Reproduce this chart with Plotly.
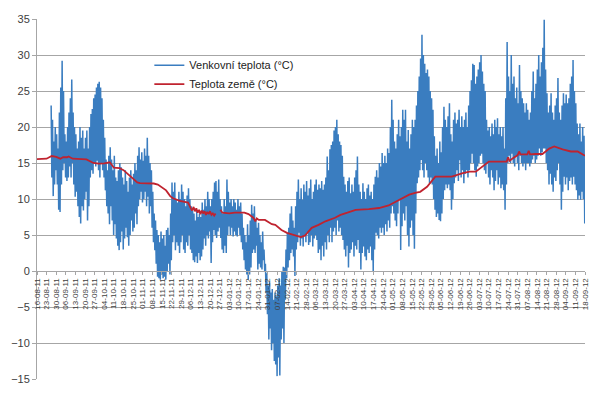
import pandas as pd
import plotly.graph_objects as go

start = pd.Timestamp("2011-08-16")
end = pd.Timestamp("2012-09-18")
first_day = 10  # first day with outdoor readings

# daily maxima of outdoor temperature (°C), days 10..398 after 16-08-2011
daily_max = [
    23, 21, 18, 20, 19, 17, 22, 25.5, 29.2, 25,
    19, 18, 20, 22, 24, 26.6, 22, 20, 19, 17,
    18, 20, 18.5, 19.5, 17, 18.5, 19.5, 17, 20, 21.8,
    22.5, 24, 24.5, 25.5, 26, 26.3, 25.5, 24, 21, 18.5,
    15.5, 14, 16, 17.2, 15.5, 14, 16, 13, 12.5, 14,
    15, 14.4, 13, 12, 14, 12.5, 11, 13, 14, 12,
    13.5, 15, 14, 16, 17.2, 15.5, 16.5, 15.3, 17, 16,
    18.5, 16, 15, 14, 11, 8, 7, 5.7, 5, 4,
    5.5, 4.5, 5, 3.5, 5.7, 6, 5, 8, 12.3, 11,
    12.3, 10, 9.5, 11, 10, 12, 11, 10, 9, 10.5,
    11.5, 10, 9, 8.4, 8, 7, 8.4, 7.5, 8, 7.5,
    9.5, 8.5, 10, 9, 11, 10, 9, 10, 11, 12.3,
    12.5, 11, 12.7, 10, 9, 8, 10, 9, 12.7, 11,
    9.5, 10, 9, 10, 9.5, 8.5, 10, 9, 9.5, 8,
    6, 5, 4, 6.5, 5, 7, 9.2, 8, 9, 7,
    6, 6.7, 5, 4, 5.5, 3, 1, -0.3, -2, -1.5,
    -3, -2.5, -4, -3, -3.5, -2, -1, -2, 0, 0.6,
    0.5, 3, 5.3, 6, 8, 9, 7, 6, 9, 11,
    12.7, 10, 11.5, 9.9, 12, 11, 12.5, 10.5, 11.5, 12.7,
    10, 11, 12, 12.7, 11.3, 12, 11.5, 12.5, 11.3, 12,
    13, 15.9, 14, 16.9, 17.5, 18, 19.5, 20, 21, 19,
    18, 17.5, 16, 13.1, 12, 11, 12.5, 13, 10.8, 12,
    11, 13, 14, 15.9, 12, 11, 10, 12.2, 11, 10,
    11.5, 12, 10.5, 11, 10, 12, 13.1, 14, 13, 15,
    14.5, 16.4, 15, 16, 15, 17, 16.4, 20, 23.8, 21,
    18, 17, 19, 21, 18.7, 20, 22.4, 21, 22.4, 18,
    19.6, 17, 19, 21, 20, 21, 23, 25, 27, 29.5,
    32.8, 30, 28.8, 27.5, 28, 27, 25, 24, 22.4, 18.7,
    16, 17, 15, 18, 16.5, 20, 22.8, 21, 20, 21.5,
    23.3, 19, 18, 21, 22, 20.5, 21, 22.4, 20, 21.5,
    20, 21, 22, 20, 23, 25, 26.5, 28.8, 28.6, 26,
    27, 28, 29, 30, 27.7, 26, 25, 21, 19.5, 20,
    18.7, 20.5, 19, 21, 20, 21.2, 19, 20, 18.7, 20,
    17, 24, 31.8, 27, 25, 30, 26, 27, 24, 25.5,
    23.3, 28.6, 25, 24, 23.3, 22, 23.3, 22.4, 21, 22,
    25, 27.7, 24, 26, 28, 30, 27, 29, 31, 34.9,
    28, 24.7, 22, 23, 24.7, 22, 21, 23, 24, 26.8,
    22, 21, 23, 24.7, 23.3, 24.5, 23.3, 24, 26, 27,
    29.3, 25, 23.3, 20.5, 19, 20.5, 18, 20, 18.8,
]

# daily minima of outdoor temperature (°C), days 10..398
daily_min = [
    13, 10.4, 12, 14, 12, 8.5, 8.2, 12, 14, 15,
    13, 12.5, 13, 14.5, 13, 15, 12, 10.3, 11, 9,
    7.5, 6.6, 9, 8.4, 10, 11, 7, 9, 13, 14,
    13.5, 15, 14.5, 15.3, 14, 13, 15, 14, 13, 11.2,
    9, 8, 6.5, 9, 7, 5, 6.5, 4.5, 3.5, 2.9,
    4, 5.5, 3, 4.5, 6, 4.7, 3.5, 5, 7, 5.5,
    6, 8, 6.5, 9, 10, 11, 9.5, 10, 11, 9,
    10.3, 8, 9, 6, 4, 2.9, 1, -0.8, -1, -1.2,
    -0.5, -1, -0.8, -1.2, 0, 1, -0.5, 1.5, 4, 5,
    2.9, 4, 3.5, 2.5, 4, 5, 3, 2.5, 4, 3.5,
    5, 3, 2.5, 1.5, 1.2, 2, 1.1, 2.5, 1.5, 2,
    3, 4.5, 3.5, 5, 4.5, 5.5, 1.1, 4, 5.7, 5,
    4.6, 5.5, 6, 4.6, 3, 2.5, 3.5, 2.5, 5, 6.2,
    5, 6, 4.8, 5.5, 5, 4.8, 6, 5, 4, 3,
    1.5, 0.2, -0.5, -1.2, -0.5, 0.5, 2.5, 3, 2.5, 3.5,
    0.2, 1, 0.5, 0.2, 1.5, 0, -3, -6, -9.5, -8,
    -11, -10, -12.5, -13, -14.6, -12, -14.5, -9.5, -8, -10,
    -4, -1, 0.5, 1.5, 2.5, 3, 2, -0.7, 3, 4,
    5.3, 3.5, 4.5, 3.4, 5, 4, 5.3, 3.6, 4, 5,
    3.4, 4.5, 5, 4.3, 2.5, 3, 1.5, 3.5, 2, 4,
    3, 5, 4, 6, 4, 5.5, 6, 5, 7, 5.5,
    6, 5, 4.3, 3, 2, 3.5, 0.5, 2.5, 3, 4,
    2, 3.5, 3, 4.3, 2.5, 0.2, 2.5, 3.4, 2, 1.5,
    3, 2.5, 3.4, 1.5, 0, 3, 5.3, 5, 4.5, 6,
    5.3, 6, 5, 6.5, 5.5, 7, 6, 8, 9, 8,
    7, 6.2, 8, 9.9, 2.9, 6.2, 8, 7, 9, 5,
    3.4, 6, 7, 5, 3.1, 8, 12.2, 13, 14, 15.4,
    14, 13, 15, 14, 13, 12.2, 13, 12, 10, 8.5,
    7.5, 8, 7.1, 6.9, 8, 10, 11.2, 12, 11.5, 12,
    11.2, 8.5, 10, 12.2, 13, 14, 12.5, 15.4, 13, 14,
    12.2, 13.5, 14, 13, 14, 15, 16.3, 15, 14, 13.1,
    14.5, 15, 16, 16.3, 15, 14, 13.5, 15, 13, 12,
    14, 13, 11.2, 12.5, 14, 12, 13, 11.5, 12, 11.2,
    8.5, 12, 15, 16, 15, 16.3, 15, 14.5, 16, 15,
    14, 16, 15, 14.5, 15, 14, 15, 15, 14.5, 15,
    15.5, 16, 15, 15.5, 16, 17, 16, 16.5, 17, 17,
    15, 14, 12, 13.5, 12, 11, 13, 12.5, 14, 15,
    12, 8.5, 11, 13.1, 12, 13, 11.2, 12.5, 13, 12,
    13.1, 12, 11.2, 9.9, 10.5, 9.9, 11, 10, 6.6,
]

# ground temperature (°C): day after 16-08-2011 and value (None = missing)
ground_day = [
    0, 7, 10.7, 14, 17, 19, 22, 23, 26, 30, 33, 36, 41, 45, 49, 51, 53, 56, 60, 63,
    66, 70, 73, 75, 80, 85, 88, 90, 94, 97, 99, 104, 107, 110, 112, 113, 114, 115,
    116, 117, 118, 119, 120, 121, 122, 123, 124, 125, 126, 127, 128, 129, 130, 131.5,
    133.5, 135, 140, 144, 151, 154, 157.5, 159, 160, 161.5, 166, 171, 173.5, 178,
    182, 185.7, 189, 192, 195, 198, 200, 205, 210, 217, 221, 226, 232, 241.6, 249,
    256, 261, 266, 271, 276, 279, 284, 288, 290, 295, 302, 310, 315, 319.5, 324, 329,
    336.5, 342, 343, 344, 346, 350, 351, 352, 354, 357, 358, 359, 363, 368, 373,
    376.6, 382.7, 388.7, 393.6, 399,
]
ground_val = [
    15.55, 15.6, 15.97, 15.85, 15.6, 15.8, 15.8, 15.9, 15.6, 15.55, 15.6, 15.5, 15.0,
    14.9, 14.95, 15.05, 15.1, 14.35, 14.3, 14.0, 13.5, 12.9, 12.3, 12.2, 12.15,
    12.15, 12.0, 11.7, 11.2, 10.4, 10.1, 9.75, 9.6, 9.5, 8.7, 8.4, 8.9, 8.3, 8.7,
    8.1, 8.5, 7.9, 8.4, 8.0, 8.3, 7.8, 8.2, 7.9, 8.3, 7.8, 8.0, 7.7, 8.0, None,
    8.5, 8.1, 8.0, 8.1, 8.1, 7.9, 7.4, 6.9, 7.3, 7.1, 7.1, 6.5, 6.4, 5.7,
    5.3, 5.05, 4.8, 4.7, 4.9, 5.5, 6.0, 6.4, 6.9, 7.4, 7.8, 8.1, 8.5, 8.6, 8.75,
    9.1, 9.6, 10.1, 10.6, 10.9, 11.0, 11.7, 12.6, 13.1, 13.1, 13.1, 13.6, 13.8,
    13.8, 14.5, 15.2, 15.2, 15.2, 15.8, 15.3, 15.6, 16.1, 16.6, 16.2, 16.2, 16.2,
    16.7, 16.2, 16.25, 16.25, 17.0, 17.3, 16.9, 16.6, 16.6, 16.0,
]

series_names = ["Venkovní teplota (°C)", "Teplota země (°C)"]

# build the outdoor series: each day a maximum (afternoon) then a minimum (night)
out_x, out_y = [], []
for i, (hi, lo) in enumerate(zip(daily_max, daily_min)):
    d = first_day + i
    out_x.append(start + pd.Timedelta(days=d + 0.3))
    out_y.append(hi)
    out_x.append(start + pd.Timedelta(days=d + 0.8))
    out_y.append(lo)

gr_x = [start + pd.Timedelta(days=d) for d in ground_day]

fig = go.Figure()
fig.add_trace(go.Scatter(x=out_x, y=out_y, mode="lines", name=series_names[0],
                         line=dict(color="#3a7dc0", width=1.5)))
fig.add_trace(go.Scatter(x=gr_x, y=ground_val, mode="lines", name=series_names[1],
                         connectgaps=False,
                         line=dict(color="#c0232f", width=1.8)))

grid = "#a6a6a6"
fig.update_layout(
    width=600, height=399,
    margin=dict(l=29, r=23, t=11, b=28, autoexpand=False),
    paper_bgcolor="white", plot_bgcolor="white",
    font=dict(family="Liberation Sans, Arial, sans-serif", color="#404040"),
    showlegend=True,
    legend=dict(x=0.205, y=0.912, xanchor="left", yanchor="top",
                bgcolor="rgba(0,0,0,0)", font=dict(size=11, color="#222"),
                itemwidth=30, tracegroupgap=0),
    xaxis=dict(
        type="date", range=[start, end],
        anchor="free", position=0.3, automargin=False,
        tick0=start, dtick=7 * 86400000, tickformat="%d-%m-%y",
        tickangle=-90, tickfont=dict(size=8, color="#404040"),
        ticks="outside", ticklen=3, tickcolor=grid,
        showline=True, linecolor=grid, linewidth=1,
        showgrid=False, zeroline=False,
    ),
    yaxis=dict(
        range=[-15, 35], dtick=5, tick0=0, automargin=False,
        showgrid=True, gridcolor=grid, gridwidth=1,
        showline=True, linecolor=grid, linewidth=1,
        ticks="outside", ticklen=4, tickcolor=grid,
        tickfont=dict(size=11, color="#404040"),
        zeroline=False,
    ),
)

fig.write_html("out.html")
